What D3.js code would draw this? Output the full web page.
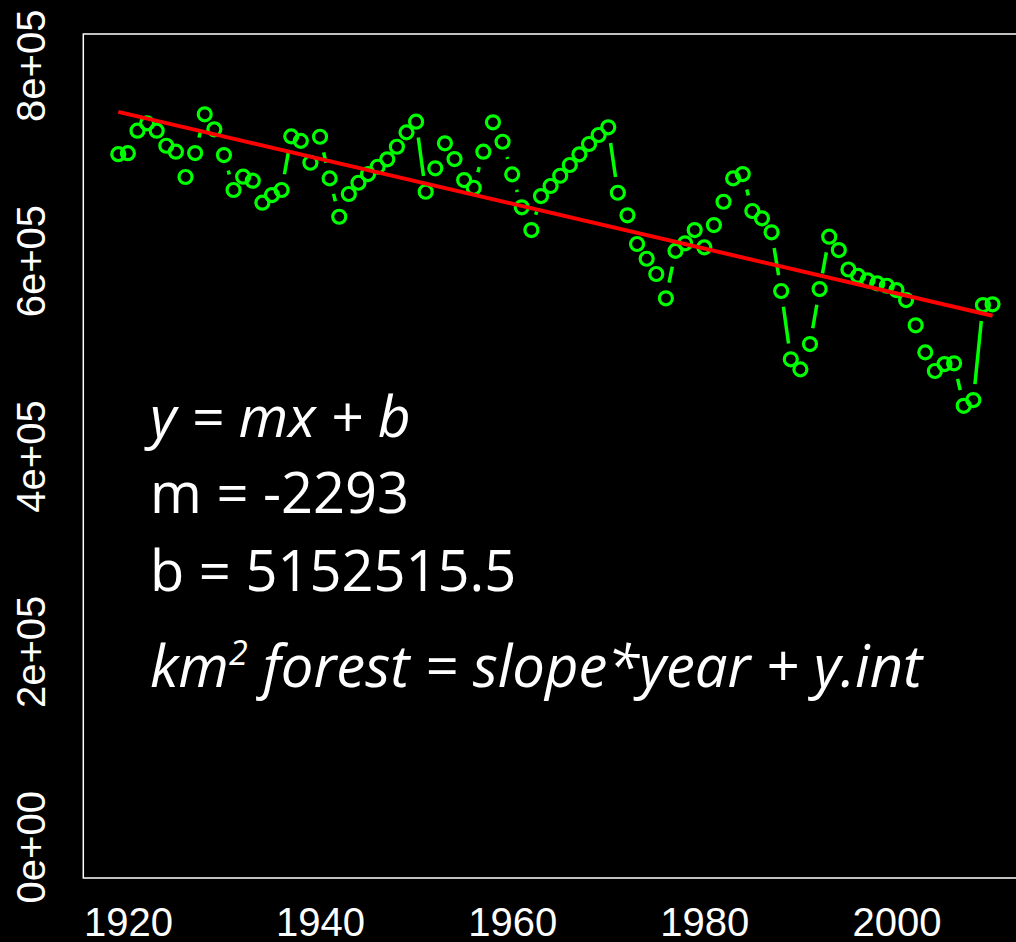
<!DOCTYPE html>
<html>
<head>
<meta charset="utf-8">
<script src="https://cdn.jsdelivr.net/npm/d3@7"></script>
<style>
  html, body { margin: 0; padding: 0; background: #000; }
  svg { display: block; }
</style>
</head>
<body>
<svg id="chart" width="1016" height="942"></svg>
<script>
// Annual forest area (km²) by year
const years = d3.range(1919, 2011);
const forestArea = [
  709000, 710000, 733000, 740500, 733000, 717600, 711500, 685600, 710100, 749800,
  734400, 708100, 672300, 685900, 681800, 659300, 667100, 672300, 727200, 722600,
  700200, 726800, 684200, 644900, 668200, 679700, 688600, 696100, 703700, 716600,
  731300, 742200, 670500, 694500, 720100, 704000, 682500, 674600, 711500, 741600,
  721700, 688300, 654600, 631300, 666100, 676400, 686900, 697900, 708800, 719400,
  728600, 736500, 669500, 646400, 617000, 601900, 586300, 561400, 610000, 617700,
  631300, 613600, 636400, 660300, 684200, 688600, 650800, 643300, 629000, 568900,
  499000, 488700, 514600, 570900, 624500, 610800, 590900, 584400, 579800, 576700,
  574300, 569900, 559600, 533800, 506100, 487000, 494100, 494900, 451400, 457300,
  554500, 555300
];

// Linear fit: forest = slope * year + intercept
const slope = -2293;
const intercept = 5152515.5;

const xTicks = [1920, 1940, 1960, 1980, 2000];
const yTicks = [0, 200000, 400000, 600000, 800000];
const yTickLabels = ["0e+00", "2e+05", "4e+05", "6e+05", "8e+05"];

const svg = d3.select("#chart");

// Plot region with 4% padding on each axis range
const xMin = d3.min(years), xMax = d3.max(years);
const xPad = (xMax - xMin) * 0.04;
const yLo = 0, yHi = 800000;
const yPad = (yHi - yLo) * 0.04;

const plotL = 83.3, plotR = 1027.5, plotT = 34, plotB = 878;

const x = d3.scaleLinear().domain([xMin - xPad, xMax + xPad]).range([plotL, plotR]);
const y = d3.scaleLinear().domain([yLo - yPad, yHi + yPad]).range([plotB, plotT]);

// Plot frame
svg.append("rect")
  .attr("x", plotL).attr("y", plotT)
  .attr("width", plotR - plotL).attr("height", plotB - plotT)
  .attr("fill", "none").attr("stroke", "#fff").attr("stroke-width", 1.5);

// Axes (labels only, no tick marks)
const xAxis = d3.axisBottom(x).tickValues(xTicks).tickSize(0).tickPadding(0)
  .tickFormat(d3.format("d"));
const gx = svg.append("g").attr("transform", `translate(0,${plotB})`).call(xAxis);
gx.select(".domain").remove();
gx.selectAll("text")
  .attr("y", 0).attr("dy", null)
  .attr("transform", "translate(0,58)")
  .attr("fill", "#fff")
  .style("font-family", "'Liberation Sans', Arial, sans-serif")
  .style("font-size", "40px");

const yAxis = d3.axisLeft(y).tickValues(yTicks).tickSize(0)
  .tickFormat((d, i) => yTickLabels[i]);
const gy = svg.append("g").call(yAxis);
gy.select(".domain").remove();
gy.selectAll(".tick text")
  .attr("x", 0).attr("dy", null)
  .attr("transform", "translate(45,0) rotate(-90)")
  .attr("text-anchor", "middle")
  .attr("fill", "#fff")
  .style("font-family", "'Liberation Sans', Arial, sans-serif")
  .style("font-size", "40px");

// Data: points joined by line segments with gaps around each point
const pts = years.map((yr, i) => [x(yr), y(forestArea[i])]);
const gap = 16;
const segs = [];
for (let i = 0; i < pts.length - 1; i++) {
  const [x0, y0] = pts[i], [x1, y1] = pts[i + 1];
  const dx = x1 - x0, dy = y1 - y0;
  const len = Math.hypot(dx, dy);
  if (len > 2 * gap) {
    const ux = dx / len, uy = dy / len;
    segs.push([x0 + ux * gap, y0 + uy * gap, x1 - ux * gap, y1 - uy * gap]);
  }
}
svg.append("g").selectAll("line").data(segs).join("line")
  .attr("x1", d => d[0]).attr("y1", d => d[1])
  .attr("x2", d => d[2]).attr("y2", d => d[3])
  .attr("stroke", "#00ff00").attr("stroke-width", 3.5).attr("stroke-linecap", "butt");

svg.append("g").selectAll("circle").data(years).join("circle")
  .attr("cx", d => x(d))
  .attr("cy", (d, i) => y(forestArea[i]))
  .attr("r", 6.5)
  .attr("fill", "none").attr("stroke", "#00ff00").attr("stroke-width", 3.2);

// Fitted trend line
const fit = d3.line().x(d => x(d)).y(d => y(slope * d + intercept));
svg.append("path")
  .datum([xMin, xMax])
  .attr("d", fit)
  .attr("fill", "none").attr("stroke", "#ff0000").attr("stroke-width", 4);

// Equation annotation
const ann = svg.append("g")
  .attr("fill", "#fff")
  .style("font-family", "'Open Sans', 'Noto Sans', sans-serif")
  .style("font-size", "56px");

ann.append("text").attr("x", 150).attr("y", 437)
  .style("font-style", "italic").style("font-size", "57px").text("y = mx + b");
ann.append("text").attr("x", 150).attr("y", 513)
  .text(`m = ${slope}`);
ann.append("text").attr("x", 150).attr("y", 591)
  .text(`b = ${intercept}`);
const eq = ann.append("text").attr("x", 150).attr("y", 687)
  .style("font-style", "italic").style("font-size", "58px");
eq.append("tspan").text("km");
eq.append("tspan").attr("dy", -22).style("font-size", "34px").text("2");
eq.append("tspan").attr("dy", 22).text(" forest = slope*year + y.int");
</script>
</body>
</html>
